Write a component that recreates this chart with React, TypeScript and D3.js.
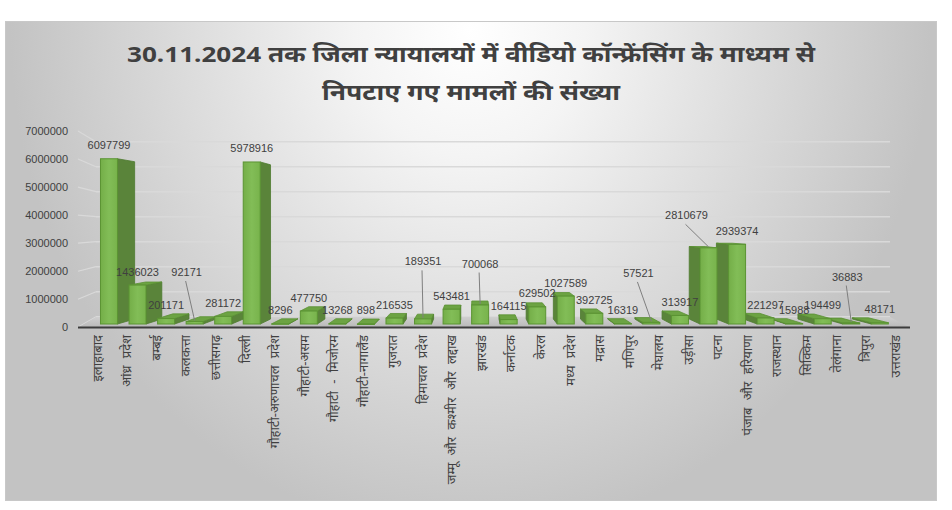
import React from 'react';
import * as d3 from 'd3';

const categories = ['इलाहाबाद','आंध्र प्रदेश','बम्बई','कलकत्ता','छत्तीसगढ़','दिल्ली','गौहाटी-अरुणाचल प्रदेश','गौहाटी-असम','गौहाटी - मिजोरम','गौहाटी-नागालैंड','गुजरात','हिमाचल प्रदेश','जम्मू और कश्मीर और लद्दाख','झारखंड','कर्नाटक','केरल','मध्य प्रदेश','मद्रास','मणिपुर','मेघालय','उड़ीसा','पटना','पंजाब और हरियाणा','राजस्थान','सिक्किम','तेलंगाना','त्रिपुरा','उत्तराखंड'];
const values = [6097799,1436023,201171,92171,281172,5978916,8296,477750,13268,898,216535,189351,543481,700068,164115,629502,1027589,392725,16319,57521,313917,2810679,2939374,221297,15988,194499,36883,48171];
const yTicks = [0,1000000,2000000,3000000,4000000,5000000,6000000,7000000];
const titleLines = ['30.11.2024 तक जिला न्यायालयों में वीडियो कॉन्फ्रेंसिंग के माध्यम से','निपटाए गए मामलों की संख्या'];
// manually moved data labels (layout offsets: dx, dy in px)
const labelShift: Record<number, [number, number]> = {3:[-8,-36],11:[0,-44],13:[0,-28],19:[-13,-36],21:[-22,-19],26:[-4,-33]};

const W = 952, H = 510;
const VX = 475, VY = 221, DEPTH = 0.952;
const proj = (x: number, y: number, r: number): [number, number] => [VX + (x - VX) * r, VY + (y - VY) * r];
const pts = (a: [number, number][]) => a.map(p => p.join(',')).join(' ');

export default function App() {
  const xBar = d3.scaleBand<string>().domain(categories).range([94.7, 894.1]).paddingInner(0.405).paddingOuter(0.2025);
  const xLab = d3.scaleBand<string>().domain(categories).range([82, 909.4]);
  const yBar = d3.scaleLinear().domain([0, 7000000]).range([324, 134.3]);
  const yAxisFront = d3.scaleLinear().domain([0, 7000000]).range([327.3, 131]);
  const yWall = d3.scaleLinear().domain([0, 7000000]).range([316.7, 141.7]);
  const bw = xBar.bandwidth();

  const bars = categories.map((c, i) => {
    const xl = xBar(c)!, xr = xl + bw, yt = yBar(values[i]), yb = yBar(0);
    return { c, i, xl, xr, yt, yb, cx: xl + bw / 2 };
  });
  const order = [...bars].sort((a, b) => Math.abs(b.cx - VX) - Math.abs(a.cx - VX));

  const font = "'Liberation Sans', Arial, sans-serif";
  const devFont = "'Noto Sans', 'Noto Sans Devanagari', 'Mangal', sans-serif";

  return (
    <svg width={W} height={H} style={{ position: 'absolute', left: 0, top: 0 }}>
      <defs>
        <radialGradient id="bg" gradientUnits="userSpaceOnUse" cx={470} cy={30} r={460} gradientTransform="translate(470 30) scale(1 1.1) translate(-470 -30)">
          <stop offset="0" stopColor="#ffffff" />
          <stop offset="0.25" stopColor="#f4f4f4" />
          <stop offset="1" stopColor="#c3c3c3" />
        </radialGradient>
        <linearGradient id="front" x1="0" x2="1" y1="0" y2="0">
          <stop offset="0" stopColor="#74ae48" />
          <stop offset="0.5" stopColor="#82bd57" />
          <stop offset="1" stopColor="#78b34c" />
        </linearGradient>
        <linearGradient id="floor" x1="0" x2="0" y1="0" y2="1">
          <stop offset="0" stopColor="#cfcfcf" />
          <stop offset="1" stopColor="#b9b9b9" />
        </linearGradient>
      </defs>
      <rect x={0} y={0} width={W} height={H} fill="#ffffff" />
      <rect x={5.5} y={21.5} width={931} height={479} fill="url(#bg)" stroke="#c8c8c8" strokeWidth={1} />

      {titleLines.map((t, k) => (
        <text key={k} x={471} y={k === 0 ? 53 : 91} textAnchor="middle" dominantBaseline="central"
          fontFamily={devFont} fontWeight="bold" fontSize={22} fill="#404040"
          textLength={k === 0 ? 688 : 298} lengthAdjust="spacingAndGlyphs">{t}</text>
      ))}

      {/* side wall + back wall gridlines */}
      {yTicks.map(t => {
        const fl = 78, bl = 96;
        return (
          <g key={t}>
            <line x1={fl} y1={yAxisFront(t)} x2={bl} y2={yWall(t)} stroke="#d9d9d9" strokeWidth={1.2} />
            <line x1={bl} y1={yWall(t)} x2={890} y2={yWall(t)} stroke="#d9d9d9" strokeWidth={1.5} />
          </g>
        );
      })}

      {/* y tick labels */}
      {yTicks.map(t => (
        <text key={'l' + t} x={68} y={yAxisFront(t)} textAnchor="end" dominantBaseline="central"
          fontFamily={font} fontSize={11} fill="#404040">{t}</text>
      ))}

      {/* floor */}
      <polygon points={pts([[78, 327.5], [910, 327.5], [890, 317], [96, 317]])} fill="url(#floor)" />
      <line x1={78} y1={327.5} x2={910} y2={327.5} stroke="#3c3c3c" strokeWidth={1.8} />

      {/* bars */}
      {order.map(b => {
        const [bxl, byt] = proj(b.xl, b.yt, DEPTH);
        const [bxr] = proj(b.xr, b.yt, DEPTH);
        const [, byb] = proj(b.xl, b.yb, DEPTH);
        return (
          <g key={b.c}>
            {b.xr < VX && (
              <polygon points={pts([[b.xr, b.yt], [bxr, byt], [bxr, byb], [b.xr, b.yb]])} fill="#5a843a" stroke="#4d7a2e" strokeWidth={0.8} />
            )}
            {b.xl > VX && (
              <polygon points={pts([[b.xl, b.yt], [bxl, byt], [bxl, byb], [b.xl, b.yb]])} fill="#5a843a" stroke="#4d7a2e" strokeWidth={0.8} />
            )}
            {b.yt > VY && (
              <polygon points={pts([[b.xl, b.yt], [b.xr, b.yt], [bxr, byt], [bxl, byt]])} fill="#6ca343" stroke="#5a9033" strokeWidth={0.8} />
            )}
            <rect x={b.xl} y={b.yt} width={bw} height={Math.max(0.5, b.yb - b.yt)} fill="url(#front)" stroke="#5b9433" strokeWidth={1} />
          </g>
        );
      })}

      {/* data labels */}
      {bars.map(b => {
        const sh = labelShift[b.i];
        const lx = b.cx + (sh ? sh[0] : 0);
        const ly = b.yt - 13.5 + (sh ? sh[1] : 0);
        return (
          <g key={'d' + b.c}>
            {sh && <line x1={lx - 1} y1={ly + 9} x2={b.cx} y2={b.yt - 1} stroke="#7f7f7f" strokeWidth={1} />}
            <text x={lx} y={ly} textAnchor="middle" dominantBaseline="central" fontFamily={font} fontSize={11} fill="#404040">{values[b.i]}</text>
          </g>
        );
      })}

      {/* x labels */}
      {categories.map(c => {
        const x = xLab(c)! + xLab.bandwidth() / 2;
        return (
          <text key={'x' + c} transform={`translate(${x},335) rotate(-90)`} textAnchor="end" dominantBaseline="central"
            fontFamily={devFont} fontSize={13} wordSpacing={4} fill="#404040">{c}</text>
        );
      })}
    </svg>
  );
}
